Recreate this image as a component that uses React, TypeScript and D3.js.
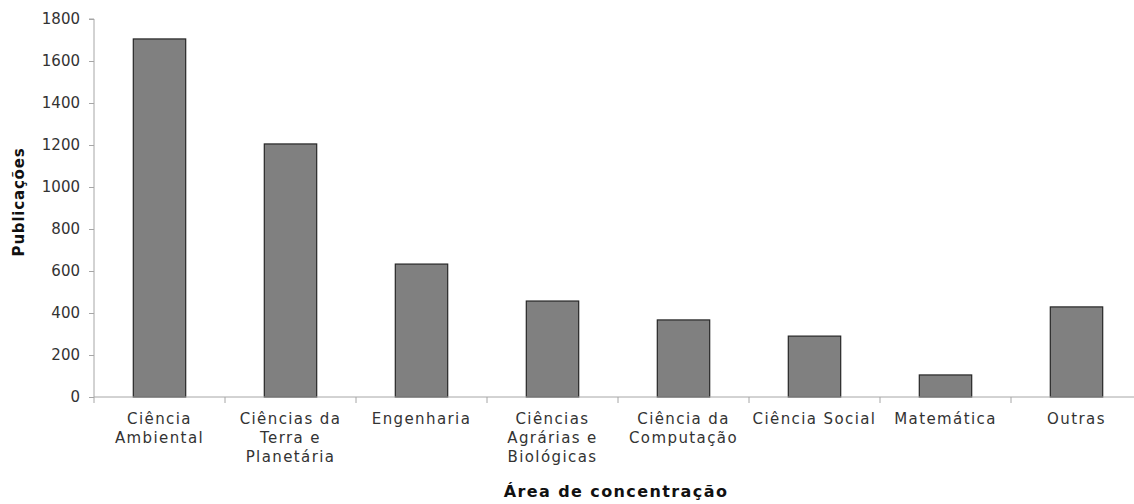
import React, { useEffect, useRef } from 'react';
import * as d3 from 'd3';

const categories = [
  'Ciência\nAmbiental',
  'Ciências da\nTerra e\nPlanetária',
  'Engenharia',
  'Ciências\nAgrárias e\nBiológicas',
  'Ciência da\nComputação',
  'Ciência Social',
  'Matemática',
  'Outras',
];
const publicacoes = [1705, 1205, 633, 457, 367, 290, 105, 429];
const yTicks = [0, 200, 400, 600, 800, 1000, 1200, 1400, 1600, 1800];

const W = 1134;
const H = 504;
const FONT = '"DejaVu Sans", sans-serif';

const App: React.FC = () => {
  const svgRef = useRef<SVGSVGElement | null>(null);

  useEffect(() => {
    if (!svgRef.current) return;
    const svg = d3.select(svgRef.current);
    svg.selectAll('*').remove();

    const x0 = 94;
    const band = 131;
    const x = d3
      .scaleBand<string>()
      .domain(categories)
      .range([x0, x0 + band * categories.length])
      .paddingInner(0.6)
      .paddingOuter(0.3);
    const y = d3.scaleLinear().domain([0, 1800]).range([397, 19]);

    const axisColor = '#a6a6a6';

    // y axis
    const yAxis = svg
      .append('g')
      .attr('transform', `translate(${x0},0)`)
      .call(d3.axisLeft(y).tickValues(yTicks).tickSize(5).tickPadding(9).tickFormat(d3.format('d')));
    yAxis.selectAll('path, line').attr('stroke', axisColor);
    yAxis
      .selectAll('text')
      .attr('font-family', FONT)
      .attr('font-size', 15)
      .attr('fill', '#333');
    yAxis.select('.domain').attr('d', `M-5,${y(1800)}H0V${y(0)}`);

    // bars
    svg
      .append('g')
      .selectAll('rect')
      .data(publicacoes)
      .enter()
      .append('rect')
      .attr('x', (_, i) => x(categories[i])!)
      .attr('width', x.bandwidth())
      .attr('y', (d) => y(d))
      .attr('height', (d) => y(0) - y(d))
      .attr('fill', '#808080')
      .attr('stroke', '#262626')
      .attr('stroke-width', 1.2);

    // x axis
    const xg = svg.append('g');
    xg.append('line')
      .attr('x1', x0)
      .attr('x2', W)
      .attr('y1', y(0))
      .attr('y2', y(0))
      .attr('stroke', axisColor);
    categories.forEach((c, i) => {
      const tx = x0 + band * i;
      xg.append('line')
        .attr('x1', tx)
        .attr('x2', tx)
        .attr('y1', y(0))
        .attr('y2', y(0) + 6)
        .attr('stroke', axisColor);
      const t = xg
        .append('text')
        .attr('x', x(c)! + x.bandwidth() / 2)
        .attr('y', 424)
        .attr('text-anchor', 'middle')
        .attr('font-family', FONT)
        .attr('font-size', 15)
        .attr('letter-spacing', 1.4)
        .attr('fill', '#333');
      c.split('\n').forEach((line, j) => {
        t.append('tspan')
          .attr('x', x(c)! + x.bandwidth() / 2)
          .attr('dy', j === 0 ? 0 : 19)
          .text(line);
      });
    });

    // titles
    svg
      .append('text')
      .attr('x', 616)
      .attr('y', 497)
      .attr('text-anchor', 'middle')
      .attr('font-family', FONT)
      .attr('font-size', 16)
      .attr('letter-spacing', 1.4)
      .attr('font-weight', 'bold')
      .attr('fill', '#111')
      .text('Área de concentração');
    svg
      .append('text')
      .attr('transform', `translate(24,202) rotate(-90)`)
      .attr('text-anchor', 'middle')
      .attr('font-family', FONT)
      .attr('font-size', 15)
      .attr('letter-spacing', 0.8)
      .attr('font-weight', 'bold')
      .attr('fill', '#111')
      .text('Publicações');
  }, []);

  return (
    <svg
      ref={svgRef}
      width={W}
      height={H}
      style={{ position: 'absolute', left: 0, top: 0, background: '#fff' }}
    />
  );
};

export default App;
